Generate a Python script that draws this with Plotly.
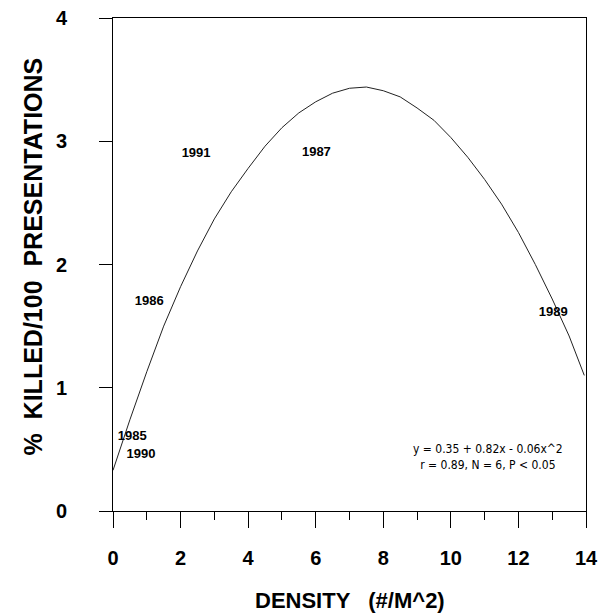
import plotly.graph_objects as go

# Fitted curve
curve_x = [0, 0.5, 1, 1.5, 2, 2.5, 3, 3.5, 4, 4.5, 5, 5.5, 6, 6.5, 7, 7.5, 8, 8.5, 9, 9.5, 10,
           10.5, 11, 11.5, 12, 12.5, 13, 13.5, 13.95]
curve_y = [0.33, 0.74, 1.13, 1.50, 1.82, 2.11, 2.37, 2.59, 2.78, 2.96, 3.11, 3.23, 3.32, 3.39, 3.43, 3.44,
           3.41, 3.36, 3.27, 3.17, 3.03, 2.87, 2.69, 2.49, 2.26, 2.00, 1.72, 1.42, 1.10]

# Year labels (data points)
years = ["1985", "1990", "1986", "1991", "1987", "1989"]
density = [0.57, 0.83, 1.07, 2.46, 6.02, 13.03]
killed = [0.60, 0.46, 1.70, 2.90, 2.91, 1.61]

x_ticks = [0, 2, 4, 6, 8, 10, 12, 14]
x_minor = [1, 3, 5, 7, 9, 11, 13]
y_ticks = [0, 1, 2, 3, 4]

eq_text = "y = 0.35 + 0.82x - 0.06x^2<br>r = 0.89, N = 6, P < 0.05"

tick_font = dict(family="Liberation Sans Narrow, Liberation Sans, Arial", size=20, color="black")

fig = go.Figure()
fig.add_trace(go.Scatter(x=curve_x, y=curve_y, mode="lines", line=dict(color="#222", width=1),
                         hoverinfo="skip", showlegend=False))
fig.add_trace(go.Scatter(x=density, y=killed, mode="text", text=[f"<b>{t}</b>" for t in years],
                         textfont=dict(family="Liberation Sans, Arial", size=13, color="black"),
                         textposition="middle center", showlegend=False))

fig.add_annotation(x=11.1, y=0.44, xref="x", yref="y", text=eq_text, align="center",
                   showarrow=False, font=dict(family="DejaVu Sans Condensed, Liberation Sans, Arial", size=12, color="black"))

fig.add_annotation(x=0.5, y=0, xref="paper", yref="paper", yanchor="middle", yshift=-89,
                   text="<b>DENSITY   (#/M^2)</b>", showarrow=False,
                   font=dict(family="Liberation Sans, Arial", size=22, color="black"))
fig.add_annotation(x=0, y=0.5, xref="paper", yref="paper", xanchor="center", xshift=-81, yshift=8,
                   text="<b>%  KILLED/100  PRESENTATIONS</b>", textangle=-90, showarrow=False,
                   font=dict(family="Liberation Sans, Arial", size=25, color="black"))

fig.update_layout(
    width=598, height=613,
    margin=dict(l=113, r=12, t=18, b=102, autoexpand=False),
    paper_bgcolor="white", plot_bgcolor="white",
    xaxis=dict(range=[0, 14], tickvals=x_ticks, ticktext=[f"<b>{v}</b>" for v in x_ticks],
               ticks="outside", ticklen=16, tickwidth=1, tickcolor="black",
               minor=dict(tickvals=x_minor, ticks="outside", ticklen=8, tickcolor="black"),
               showline=True, linecolor="black", linewidth=1, mirror=True, automargin=False,
               showgrid=False, zeroline=False, tickfont=tick_font, ticklabelstandoff=13),
    yaxis=dict(range=[0, 4], tickvals=y_ticks, ticktext=[f"<b>{v}</b>" for v in y_ticks],
               ticks="outside", ticklen=13, tickwidth=1, tickcolor="black",
               showline=True, linecolor="black", linewidth=1, mirror=True, automargin=False,
               showgrid=False, zeroline=False, tickfont=tick_font, ticklabelstandoff=28),
)

fig.write_html("out.html", config={"displayModeBar": False},
               post_script="document.body.style.margin='0';document.body.style.overflow='hidden';")
